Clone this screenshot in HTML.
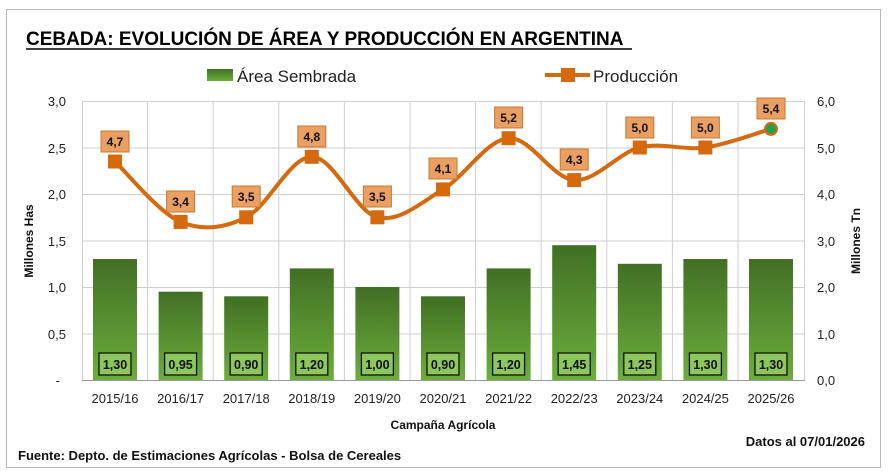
<!DOCTYPE html>
<html><head><meta charset="utf-8"><style>
body{margin:0;background:#fff;}
svg text{font-family:"Liberation Sans",sans-serif;}
</style></head><body>
<svg width="889" height="470" viewBox="0 0 889 470" xmlns="http://www.w3.org/2000/svg">
<defs>
<linearGradient id="g" x1="0" y1="0" x2="0" y2="1">
<stop offset="0" stop-color="#416f24"/><stop offset="1" stop-color="#6cae3c"/></linearGradient>
</defs>
<rect x="6.5" y="9.5" width="874" height="458" fill="#fff" stroke="#b8b8b8"/>
<text x="26" y="45" font-size="19" font-weight="bold" fill="#000">CEBADA: EVOLUCIÓN DE ÁREA Y PRODUCCIÓN EN ARGENTINA</text>
<line x1="26" y1="49" x2="632" y2="49" stroke="#000" stroke-width="1.5"/>
<rect x="207" y="69" width="26" height="12" fill="url(#g)"/>
<text x="237" y="82" font-size="17" fill="#222">Área Sembrada</text>
<line x1="545" y1="75" x2="590" y2="75" stroke="#d4690e" stroke-width="4"/>
<rect x="561" y="68" width="14" height="14" fill="#d4690e"/>
<text x="593" y="82" font-size="17" fill="#222">Producción</text>
<g stroke="#cfcfcf" stroke-width="1">
<line x1="82" y1="101.5" x2="805" y2="101.5"/><line x1="82" y1="148" x2="805" y2="148"/><line x1="82" y1="194.5" x2="805" y2="194.5"/><line x1="82" y1="241" x2="805" y2="241"/><line x1="82" y1="287.5" x2="805" y2="287.5"/><line x1="82" y1="334" x2="805" y2="334"/>
<line x1="82.5" y1="101" x2="82.5" y2="380"/><line x1="147.6" y1="101" x2="147.6" y2="380"/><line x1="213.2" y1="101" x2="213.2" y2="380"/><line x1="278.8" y1="101" x2="278.8" y2="380"/><line x1="344.4" y1="101" x2="344.4" y2="380"/><line x1="410" y1="101" x2="410" y2="380"/><line x1="475.6" y1="101" x2="475.6" y2="380"/><line x1="541.2" y1="101" x2="541.2" y2="380"/><line x1="606.8" y1="101" x2="606.8" y2="380"/><line x1="672.4" y1="101" x2="672.4" y2="380"/><line x1="738" y1="101" x2="738" y2="380"/><line x1="804.5" y1="101" x2="804.5" y2="380"/>
</g>
<line x1="82" y1="380.5" x2="805" y2="380.5" stroke="#999"/>
<g fill="url(#g)">
<rect x="93" y="259" width="44" height="121"/><rect x="158.6" y="291.7" width="44" height="88.3"/><rect x="224.2" y="296.3" width="44" height="83.7"/><rect x="289.8" y="268.4" width="44" height="111.6"/><rect x="355.4" y="287" width="44" height="93"/><rect x="421" y="296.3" width="44" height="83.7"/><rect x="486.6" y="268.4" width="44" height="111.6"/><rect x="552.2" y="245.2" width="44" height="134.8"/><rect x="617.8" y="263.8" width="44" height="116.2"/><rect x="683.4" y="259" width="44" height="121"/><rect x="749" y="259" width="44" height="121"/>
</g>
<g fill="#8dc65c" stroke="#111" stroke-width="1.3">
<rect x="99" y="353" width="32" height="22"/><rect x="164.6" y="353" width="32" height="22"/><rect x="230.2" y="353" width="32" height="22"/><rect x="295.8" y="353" width="32" height="22"/><rect x="361.4" y="353" width="32" height="22"/><rect x="427" y="353" width="32" height="22"/><rect x="492.6" y="353" width="32" height="22"/><rect x="558.2" y="353" width="32" height="22"/><rect x="623.8" y="353" width="32" height="22"/><rect x="689.4" y="353" width="32" height="22"/><rect x="755" y="353" width="32" height="22"/>
</g>
<g font-size="12.5" font-weight="bold" fill="#111" text-anchor="middle">
<text x="115" y="369">1,30</text><text x="180.6" y="369">0,95</text><text x="246.2" y="369">0,90</text><text x="311.8" y="369">1,20</text><text x="377.4" y="369">1,00</text><text x="443" y="369">0,90</text><text x="508.6" y="369">1,20</text><text x="574.2" y="369">1,45</text><text x="639.8" y="369">1,25</text><text x="705.4" y="369">1,30</text><text x="771" y="369">1,30</text>
</g>
<path d="M115,161.5 C125.9,171.6 158.7,212.6 180.6,221.9 C202.5,231.2 224.3,228.2 246.2,217.3 C268.1,206.5 289.9,156.8 311.8,156.8 C333.7,156.8 355.5,211.9 377.4,217.3 C399.3,222.7 421.1,202.6 443,189.4 C464.9,176.2 486.7,139.8 508.6,138.2 C530.5,136.7 552.3,178.6 574.2,180.1 C596.1,181.7 617.9,152.9 639.8,147.5 C661.7,142.1 683.5,150.6 705.4,147.5 C727.3,144.4 760.1,132 771,128.9" fill="none" stroke="#d4690e" stroke-width="4"/>
<g fill="#d4690e">
<rect x="108" y="154.5" width="14" height="14"/><rect x="173.6" y="214.9" width="14" height="14"/><rect x="239.2" y="210.3" width="14" height="14"/><rect x="304.8" y="149.8" width="14" height="14"/><rect x="370.4" y="210.3" width="14" height="14"/><rect x="436" y="182.4" width="14" height="14"/><rect x="501.6" y="131.2" width="14" height="14"/><rect x="567.2" y="173.1" width="14" height="14"/><rect x="632.8" y="140.5" width="14" height="14"/><rect x="698.4" y="140.5" width="14" height="14"/>
</g>
<circle cx="771" cy="128.9" r="6" fill="#22a04a" stroke="#d4690e" stroke-width="2"/>
<g fill="#e9a062" stroke="#c8782e" stroke-width="1">
<rect x="101" y="131" width="28" height="21"/><rect x="166.6" y="191" width="28" height="21"/><rect x="232.2" y="186" width="28" height="21"/><rect x="297.8" y="126" width="28" height="21"/><rect x="363.4" y="186" width="28" height="21"/><rect x="429" y="158" width="28" height="21"/><rect x="494.6" y="107" width="28" height="21"/><rect x="560.2" y="149" width="28" height="21"/><rect x="625.8" y="117" width="28" height="21"/><rect x="691.4" y="117" width="28" height="21"/><rect x="757" y="98" width="28" height="21"/>
</g>
<g font-size="12" font-weight="bold" fill="#111" text-anchor="middle">
<text x="115" y="146">4,7</text><text x="180.6" y="206">3,4</text><text x="246.2" y="201">3,5</text><text x="311.8" y="141">4,8</text><text x="377.4" y="201">3,5</text><text x="443" y="173">4,1</text><text x="508.6" y="122">5,2</text><text x="574.2" y="164">4,3</text><text x="639.8" y="132">5,0</text><text x="705.4" y="132">5,0</text><text x="771" y="113">5,4</text>
</g>
<g font-size="13" fill="#222" text-anchor="end">
<text x="66" y="106">3,0</text><text x="66" y="153">2,5</text><text x="66" y="199">2,0</text><text x="66" y="246">1,5</text><text x="66" y="292">1,0</text><text x="66" y="339">0,5</text><text x="60" y="385">-</text>
</g>
<g font-size="13" fill="#222">
<text x="817" y="106">6,0</text><text x="817" y="153">5,0</text><text x="817" y="199">4,0</text><text x="817" y="246">3,0</text><text x="817" y="292">2,0</text><text x="817" y="339">1,0</text><text x="817" y="385">0,0</text>
</g>
<g font-size="13" fill="#222" text-anchor="middle">
<text x="115" y="403">2015/16</text><text x="180.6" y="403">2016/17</text><text x="246.2" y="403">2017/18</text><text x="311.8" y="403">2018/19</text><text x="377.4" y="403">2019/20</text><text x="443" y="403">2020/21</text><text x="508.6" y="403">2021/22</text><text x="574.2" y="403">2022/23</text><text x="639.8" y="403">2023/24</text><text x="705.4" y="403">2024/25</text><text x="771" y="403">2025/26</text>
</g>
<text x="443" y="429" font-size="12" font-weight="bold" text-anchor="middle" fill="#111">Campaña Agrícola</text>
<text transform="translate(33,241) rotate(-90)" font-size="12" font-weight="bold" text-anchor="middle" fill="#111">Millones Has</text>
<text transform="translate(860,241) rotate(-90)" font-size="12" font-weight="bold" text-anchor="middle" fill="#111">Millones Tn</text>
<text x="865" y="446" font-size="13" font-weight="bold" text-anchor="end" fill="#111">Datos al 07/01/2026</text>
<text x="18" y="460" font-size="13" font-weight="bold" fill="#111">Fuente: Depto. de Estimaciones Agrícolas - Bolsa de Cereales</text>
</svg>
</body></html>
